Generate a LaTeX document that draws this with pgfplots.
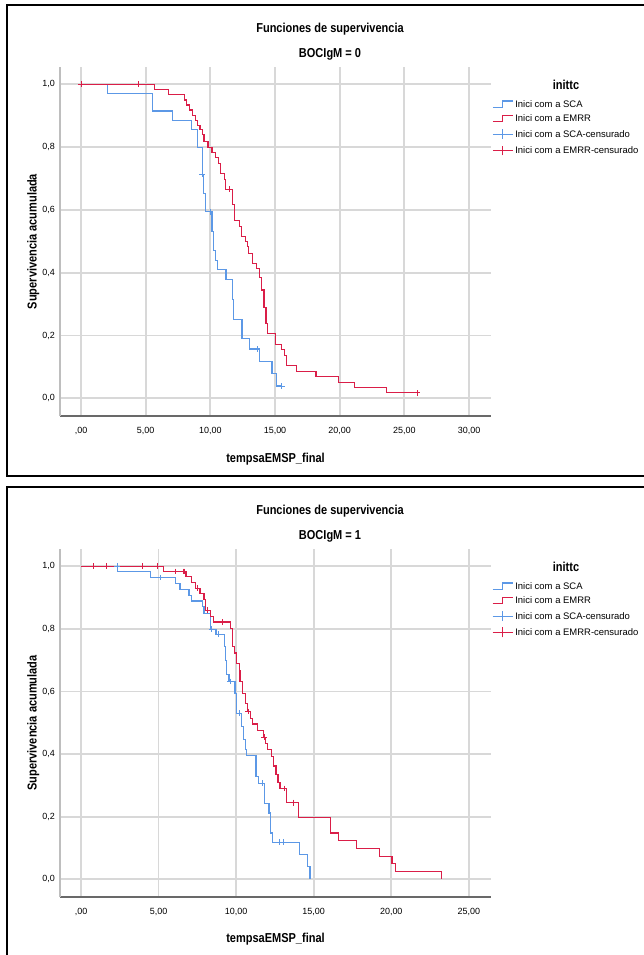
\documentclass[border=0pt]{standalone}
\usepackage{fontspec}
\setmainfont{Liberation Sans}
\newfontfamily\titlefont{Liberation Sans}[FakeStretch=0.85]
\usepackage{pgfplots}
\pgfplotsset{compat=1.18}
\definecolor{scablue}{RGB}{92,152,230}
\definecolor{emrrred}{RGB}{218,30,72}
\definecolor{gridgray}{RGB}{216,216,216}
\definecolor{yaxgray}{RGB}{190,190,190}
\definecolor{axisgray}{RGB}{105,105,105}
\pgfplotsset{
  kmaxis/.style={
    scale only axis, width=431bp, anchor=south west,
    ymin=-0.0564, ymax=1.0551,
    ytick={0,0.2,0.4,0.6,0.8,1.0},
    yticklabels={{0,0},{0,2},{0,4},{0,6},{0,8},{1,0}},
    grid=major,
    major grid style={draw=gridgray, line width=1.8bp},
    major tick length=0pt,
    axis x line*=bottom, axis y line*=left,
    x axis line style={draw=axisgray, line width=1.3bp, -},
    y axis line style={draw=yaxgray, line width=1.2bp, -},
    ticklabel style={font=\fontsize{9}{10}\selectfont, inner sep=0pt},
    xticklabel style={anchor=north, yshift=-11.5bp},
    yticklabel style={anchor=east, xshift=-5bp},
    title style={at={(axis description cs:0.6265,1.056)}, anchor=center, align=center,
      font=\titlefont\bfseries\fontsize{13}{25}\selectfont},
    xlabel={tempsaEMSP\_final},
    xlabel style={at={(axis description cs:0.5,-0.132)}, anchor=base,
      font=\titlefont\bfseries\fontsize{13}{15}\selectfont},
    ylabel={Supervivencia acumulada},
    ylabel style={at={(axis description cs:-0.054,0.5)}, anchor=base,
      font=\titlefont\bfseries\fontsize{13}{15}\selectfont},
    legend style={at={(axis description cs:1.0023,0.905)}, anchor=north west,
      draw=none, fill=none, inner sep=0pt, row sep=5.3bp, column sep=2bp,
      font=\fontsize{9.5}{11}\selectfont,
      nodes={inner sep=0pt, text height=7bp, text depth=2bp}},
    legend cell align=left,
  },
  kmline/.style={const plot, line width=1.1bp, no marks},
  kmcens/.style={only marks, mark=+, mark size=2.9bp, mark options={line width=0.9bp}},
  scastep/.style={legend image code/.code={\draw[scablue,line width=1.1bp] (0bp,-2.7bp) -- (9.5bp,-2.7bp) -- (9.5bp,3.8bp) -- (20bp,3.8bp);}},
  emrrstep/.style={legend image code/.code={\draw[emrrred,line width=1.1bp] (0bp,-2.7bp) -- (9.5bp,-2.7bp) -- (9.5bp,3.8bp) -- (20bp,3.8bp);}},
  scacens/.style={legend image code/.code={\draw[scablue,line width=1bp] (0bp,0.4bp) -- (20bp,0.4bp); \draw[scablue,line width=1bp] (10bp,-4.5bp) -- (10bp,5.3bp);}},
  emrrcens/.style={legend image code/.code={\draw[emrrred,line width=1bp] (0bp,0.4bp) -- (20bp,0.4bp); \draw[emrrred,line width=1bp] (10bp,-4.5bp) -- (10bp,5.3bp);}},
}
\begin{document}
\begin{tikzpicture}
% ---------- panel frames ----------
\draw[line width=2bp] (7bp,478.5bp) rectangle (700bp,950bp);
\draw[line width=2bp] (7bp,468bp) rectangle (700bp,-20bp);
% ---------- BOCIgM = 0 ----------
\begin{axis}[kmaxis, name=top, at={(60bp,539bp)}, height=349bp,
  xmin=-1.624, xmax=31.70, xtick={0,5,10,15,20,25,30},
  xticklabels={{,00},{5,00},{10,00},{15,00},{20,00},{25,00},{30,00}},
  title={Funciones de supervivencia\\BOCIgM = 0}]
\addplot[kmline, scablue, scastep] coordinates {
(0,1) (2.06,0.971) (5.54,0.915) (7.09,0.886) (8.56,0.857) (9.02,0.800)
(9.38,0.714) (9.46,0.653) (9.60,0.594) (10.13,0.531) (10.26,0.470)
(10.40,0.440) (10.52,0.409) (11.21,0.377) (11.70,0.315) (11.80,0.252)
(12.45,0.189) (13.05,0.157) (13.79,0.118) (14.77,0.079) (15.13,0.039)
(15.52,0.039)};
\addlegendentry{Inici com a SCA}
\addplot[kmline, emrrred, emrrstep] coordinates {
(0,1) (5.70,0.983) (6.78,0.967) (8.02,0.950) (8.17,0.934) (8.38,0.918)
(8.63,0.902) (8.84,0.886) (9.02,0.870) (9.20,0.855) (9.36,0.839)
(9.51,0.817) (9.82,0.799) (10.13,0.782) (10.39,0.766) (10.62,0.748)
(10.77,0.717) (11.06,0.697) (11.19,0.666) (11.74,0.616) (11.85,0.566)
(12.26,0.547) (12.42,0.515) (12.70,0.499) (12.85,0.483) (12.96,0.462)
(13.27,0.430) (13.60,0.414) (13.79,0.385) (13.97,0.345) (14.15,0.290)
(14.30,0.239) (14.43,0.205) (15.02,0.171) (15.50,0.154) (15.75,0.137)
(15.90,0.103) (16.68,0.086) (18.17,0.069) (19.90,0.051) (21.15,0.034)
(23.63,0.017) (25.98,0.017)};
\addlegendentry{Inici com a EMRR}
\addplot[kmcens, scablue, scacens] coordinates {
(9.38,0.714) (10.0,0.594) (13.63,0.157) (15.52,0.039)};
\addlegendentry{Inici com a SCA-censurado}
\addplot[kmcens, emrrred, emrrcens] coordinates {
(0,1) (4.43,1) (11.47,0.666) (25.98,0.017)};
\addlegendentry{Inici com a EMRR-censurado}
\end{axis}
\node[font=\titlefont\bfseries\fontsize{13}{15}\selectfont] at ([xshift=75bp,yshift=-18bp]top.north east) {inittc};
% ---------- BOCIgM = 1 ----------
\begin{axis}[kmaxis, name=bot, at={(60bp,58bp)}, height=348bp,
  xmin=-1.354, xmax=26.43, xtick={0,5,10,15,20,25},
  xticklabels={{,00},{5,00},{10,00},{15,00},{20,00},{25,00}},
  title={Funciones de supervivencia\\BOCIgM = 1}]
\addplot[kmline, scablue, scastep] coordinates {
(0,1) (2.36,0.983) (4.49,0.964) (6.10,0.946) (6.38,0.927) (6.96,0.908)
(7.14,0.889) (7.82,0.871) (7.93,0.850) (8.32,0.799) (8.70,0.783)
(9.24,0.745) (9.32,0.700) (9.40,0.653) (9.54,0.632) (9.93,0.595)
(10.04,0.531) (10.32,0.488) (10.47,0.446) (10.62,0.414) (10.68,0.395)
(11.28,0.329) (11.43,0.307) (11.84,0.242) (12.12,0.212) (12.20,0.148)
(12.32,0.118) (14.08,0.080) (14.62,0.042) (14.76,0)};
\addlegendentry{Inici com a SCA}
\addplot[kmline, emrrred, emrrstep] coordinates {
(0,1) (5.31,0.983) (6.77,0.966) (7.14,0.948) (7.39,0.930) (7.67,0.912)
(7.93,0.893) (8.04,0.860) (8.36,0.840) (8.53,0.822) (9.65,0.802)
(9.74,0.744) (9.91,0.723) (10.04,0.690) (10.19,0.667) (10.25,0.632)
(10.42,0.595) (10.60,0.563) (10.72,0.536) (10.92,0.515) (11.07,0.496)
(11.39,0.476) (11.75,0.454) (11.90,0.434) (12.04,0.414) (12.28,0.392)
(12.42,0.362) (12.57,0.335) (12.70,0.310) (12.83,0.290) (13.26,0.245)
(14.03,0.197) (16.10,0.148) (16.60,0.123) (17.78,0.098) (19.23,0.074)
(20.05,0.050) (20.25,0.025) (23.25,0)};
\addlegendentry{Inici com a EMRR}
\addplot[kmcens, scablue, scacens] coordinates {
(2.34,1) (5.09,0.964) (8.42,0.799) (8.88,0.783) (9.61,0.632)
(10.21,0.531) (11.68,0.307) (12.77,0.118) (13.05,0.118)};
\addlegendentry{Inici com a SCA-censurado}
\addplot[kmcens, emrrred, emrrcens] coordinates {
(0.80,1) (1.61,1) (3.98,1) (4.90,1) (6.06,0.983) (6.60,0.983) (6.66,0.983)
(7.52,0.930) (8.17,0.860) (9.11,0.822) (10.77,0.536) (11.82,0.454)
(13.12,0.290) (13.70,0.245)};
\addlegendentry{Inici com a EMRR-censurado}
\end{axis}
\node[font=\titlefont\bfseries\fontsize{13}{15}\selectfont] at ([xshift=75bp,yshift=-18bp]bot.north east) {inittc};
\pgfresetboundingbox
\path[use as bounding box] (0bp,0bp) rectangle (644bp,955bp);
\end{tikzpicture}
\end{document}
